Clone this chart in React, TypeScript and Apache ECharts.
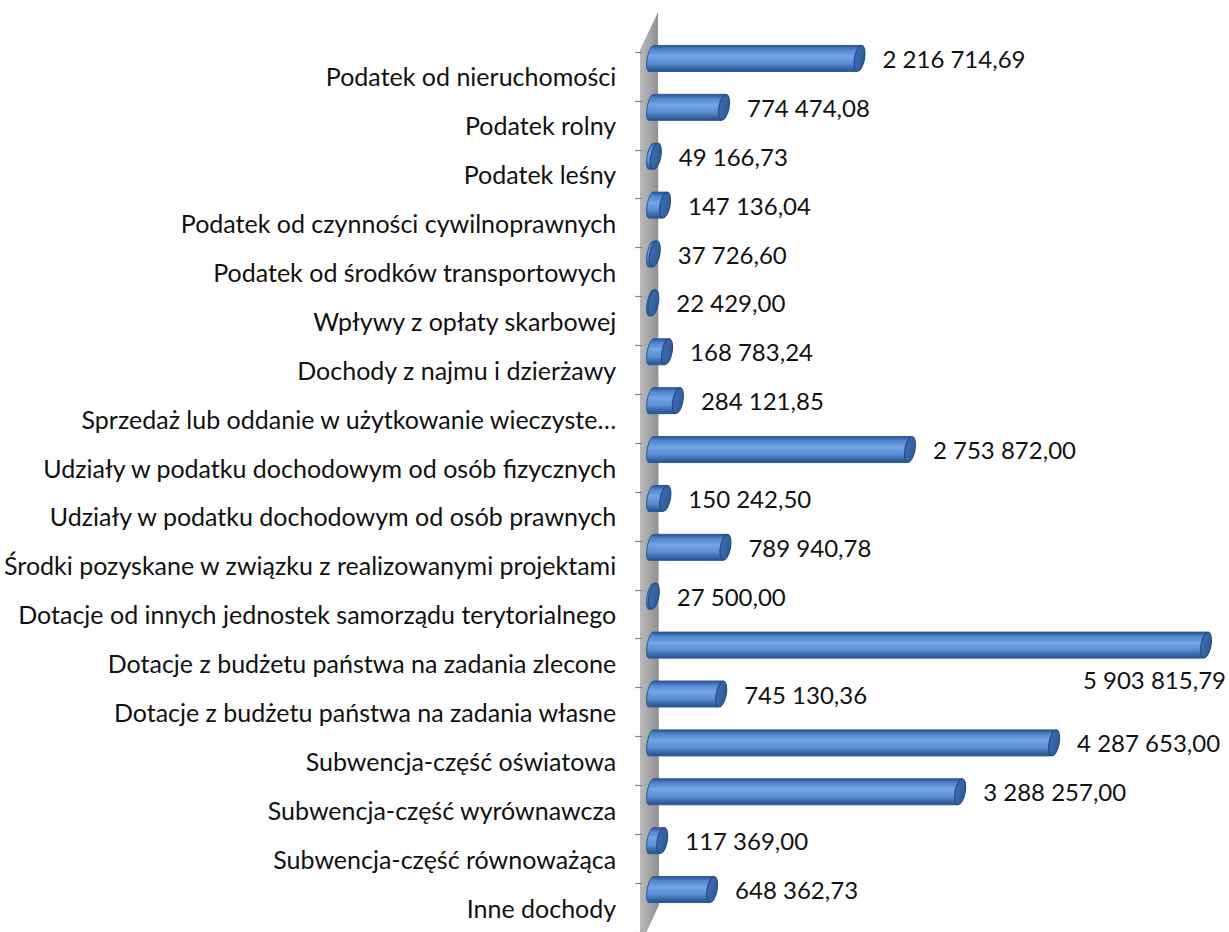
import React, { useEffect, useRef } from "react";
import * as echarts from "echarts";

const categories: string[] = [
  "Podatek od nieruchomości",
  "Podatek rolny",
  "Podatek leśny",
  "Podatek od czynności cywilnoprawnych",
  "Podatek od środków transportowych",
  "Wpływy z opłaty skarbowej",
  "Dochody z najmu i dzierżawy",
  "Sprzedaż lub oddanie w użytkowanie wieczyste…",
  "Udziały w podatku dochodowym od osób fizycznych",
  "Udziały w podatku dochodowym od osób prawnych",
  "Środki pozyskane w związku z realizowanymi projektami",
  "Dotacje od innych jednostek samorządu terytorialnego",
  "Dotacje z budżetu państwa na zadania zlecone",
  "Dotacje z budżetu państwa na zadania własne",
  "Subwencja-część oświatowa",
  "Subwencja-część wyrównawcza",
  "Subwencja-część równoważąca",
  "Inne dochody",
];

const values: number[] = [
  2216714.69, 774474.08, 49166.73, 147136.04, 37726.6, 22429.0, 168783.24,
  284121.85, 2753872.0, 150242.5, 789940.78, 27500.0, 5903815.79, 745130.36,
  4287653.0, 3288257.0, 117369.0, 648362.73,
];

const valueMin = 0;
const valueMax = 6000000;

function formatPL(v: number): string {
  const [intPart, dec] = v.toFixed(2).split(".");
  const grouped = intPart.replace(/\B(?=(\d{3})+(?!\d))/g, " ");
  return grouped + "," + dec;
}

const DX = 9; // 3D depth offset of bars
const DY = -18;
const HALF = 13;
const SKEW = 2.5;
const FONT = "Lato";

export default function App() {
  const ref = useRef<HTMLDivElement>(null);
  useEffect(() => {
    if (!ref.current) return;
    const chart = echarts.init(ref.current, null, { renderer: "svg" });
    const data = values.map((v, i) => [v, i]);
    const option: any = {
      animation: false,
      backgroundColor: "#ffffff",
      grid: { left: 640, top: 52, width: 566, height: 885.2, containLabel: false },
      xAxis: { type: "value", min: valueMin, max: valueMax, show: false },
      yAxis: {
        type: "category",
        data: categories,
        inverse: true,
        axisLine: { show: false },
        axisTick: { show: true, length: 7, lineStyle: { color: "#868686", width: 1.2 } },
        axisLabel: {
          margin: 26,
          fontSize: 25,
          fontFamily: FONT,
          color: "#111",
          interval: 0,
        },
        splitLine: { show: false },
      },
      graphic: [
        {
          type: "polygon",
          z: 0,
          shape: {
            points: [
              [640, 50],
              [658, 12],
              [659, 905],
              [640, 946],
            ],
          },
          style: {
            fill: new echarts.graphic.LinearGradient(0, 0, 1, 0, [
              { offset: 0, color: "#b9b9b9" },
              { offset: 0.5, color: "#a6a6a6" },
              { offset: 1, color: "#8e8e8e" },
            ]),
          },
        },
      ],
      series: [
        {
          type: "custom",
          data,
          encode: { x: 0, y: 1 },
          z: 5,
          clip: false,
          renderItem: (params: any, api: any) => {
            const v = api.value(0);
            const idx = api.value(1);
            const p0 = api.coord([0, idx]);
            const p1 = api.coord([v, idx]);
            const x0 = p0[0] + DX;
            const x1 = p1[0] + DX;
            const cy = p0[1] + DY;
            const bodyFill = new echarts.graphic.LinearGradient(0, 0, 0, 1, [
              { offset: 0, color: "#2d5b9a" },
              { offset: 0.12, color: "#4f84cc" },
              { offset: 0.4, color: "#72a5e8" },
              { offset: 0.7, color: "#5a8dd2" },
              { offset: 1, color: "#2a5592" },
            ]);
            const capFill = new echarts.graphic.LinearGradient(0, 0, 1, 0, [
              { offset: 0, color: "#3c6cae" },
              { offset: 1, color: "#2f5c9a" },
            ]);
            const label = formatPL(v);
            const fs = 24;
            const estW = label.length * fs * 0.49;
            const W = api.getWidth();
            let tx = x1 + 5 + 18;
            let ty = cy;
            let align = "left";
            if (tx + estW > W - 2) {
              tx = W - 3;
              ty = cy + 34;
              align = "right";
            }
            return {
              type: "group",
              children: [
                {
                  type: "polygon",
                  shape: {
                    points: [
                      [x0 + SKEW, cy - HALF],
                      [x1 + SKEW, cy - HALF],
                      [x1 - SKEW, cy + HALF],
                      [x0 - SKEW, cy + HALF],
                    ],
                  },
                  style: { fill: bodyFill, stroke: "#2c5a94", lineWidth: 1 },
                },
                {
                  type: "ellipse",
                  x: x0,
                  y: cy,
                  rotation: -0.19,
                  shape: { cx: 0, cy: 0, rx: 4, ry: HALF },
                  style: { fill: bodyFill, stroke: "#2c5a94", lineWidth: 1 },
                },
                {
                  type: "polygon",
                  shape: {
                    points: [
                      [x0 + SKEW, cy - HALF + 1],
                      [x1 + SKEW, cy - HALF + 1],
                      [x1 - SKEW, cy + HALF - 1],
                      [x0 - SKEW, cy + HALF - 1],
                    ],
                  },
                  style: { fill: bodyFill },
                },
                {
                  type: "ellipse",
                  x: x1,
                  y: cy,
                  rotation: -0.19,
                  shape: { cx: 0, cy: 0, rx: 5, ry: HALF },
                  style: { fill: capFill, stroke: "#244d85", lineWidth: 1.2 },
                },
                {
                  type: "text",
                  x: tx,
                  y: ty,
                  style: {
                    text: label,
                    fill: "#111",
                    fontSize: fs,
                    fontFamily: FONT,
                    align,
                    verticalAlign: "middle",
                  },
                },
              ],
            };
          },
        },
      ],
    };
    chart.setOption(option);
    return () => chart.dispose();
  }, []);
  return (
    <div
      ref={ref}
      style={{ position: "fixed", left: 0, top: 0, width: 1229, height: 932 }}
    />
  );
}
